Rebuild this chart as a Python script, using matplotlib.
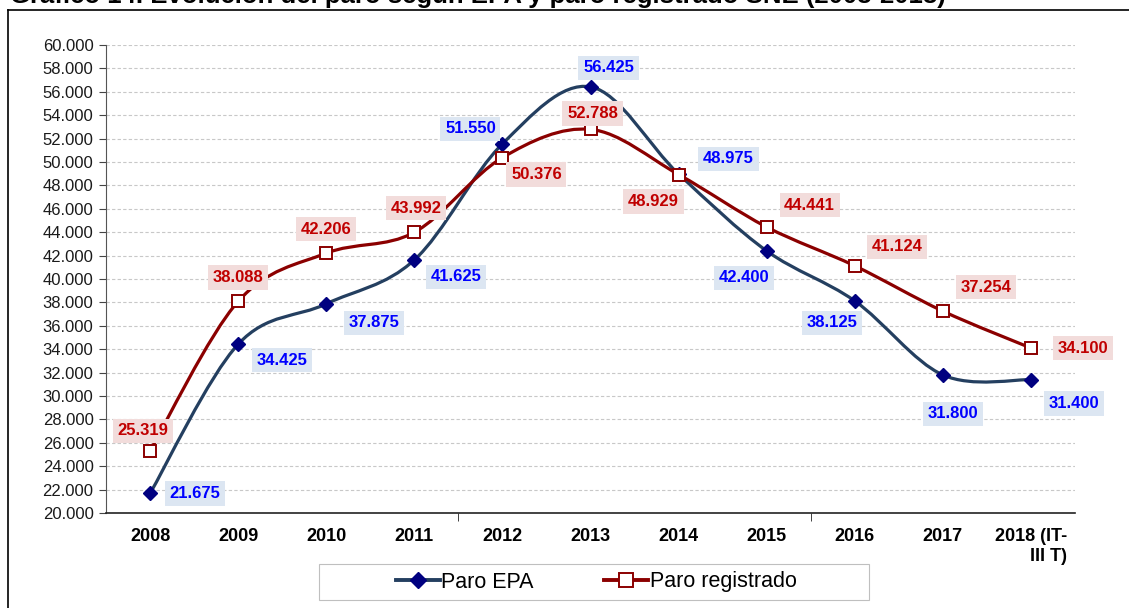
import matplotlib
matplotlib.use("Agg")
import matplotlib.pyplot as plt
from matplotlib.path import Path
from matplotlib.patches import PathPatch, Rectangle
from matplotlib.lines import Line2D
import numpy as np

plt.rcParams['font.family'] = ['Liberation Sans', 'DejaVu Sans']

years = ['2008', '2009', '2010', '2011', '2012', '2013', '2014', '2015', '2016', '2017', '2018 (IT-\nIII T)']
paro_epa = [21675, 34425, 37875, 41625, 51550, 56425, 48975, 42400, 38125, 31800, 31400]
paro_reg = [25319, 38088, 42206, 43992, 50376, 52788, 48929, 44441, 41124, 37254, 34100]

# label offsets in pixels (dx right, dy down)
epa_off = [(45, 0), (44, 16), (48, 19), (42, 17), (-32, -15), (18, -19),
           (50, -15), (-23, 27), (-23, 22), (10, 39), (43, 24)]
reg_off = [(-7, -20), (0, -24), (0, -24), (2, -24), (34, 17), (2, -16),
           (-25, 27), (43, -22), (42, -19), (43, -24), (52, 0)]


def smooth_path(xs, ys):
    # Excel-like smoothed line: cubic bezier segments through every point
    pts = np.column_stack([xs, ys]).astype(float)
    n = len(pts)
    verts = [pts[0]]
    codes = [Path.MOVETO]
    for i in range(n - 1):
        p0 = pts[i - 1] if i > 0 else pts[i]
        p1 = pts[i]
        p2 = pts[i + 1]
        p3 = pts[i + 2] if i + 2 < n else pts[i + 1]
        c1 = p1 + (p2 - p0) / 6.0
        c2 = p2 - (p3 - p1) / 6.0
        verts += [c1, c2, p2]
        codes += [Path.CURVE4] * 3
    return Path(verts, codes)


fig = plt.figure(figsize=(11.29, 6.08), dpi=100)
ax = fig.add_axes([106 / 1129, 1 - 513 / 608, (1075 - 106) / 1129, (513 - 45) / 608])

x = np.arange(len(years))

epa_line = '#243f60'
reg_line = '#8b0000'

ax.add_patch(PathPatch(smooth_path(x, paro_epa), fill=False, edgecolor=epa_line, lw=2.3, zorder=3))
ax.add_patch(PathPatch(smooth_path(x, paro_reg), fill=False, edgecolor=reg_line, lw=2.3, zorder=3))
ax.plot(x, paro_epa, ls='none', marker='D', ms=7, mfc='#000080', mec='#000080', zorder=4)
ax.plot(x, paro_reg, ls='none', marker='s', ms=9, mfc='white', mec=reg_line, mew=1.4, zorder=4)


def fmt(v):
    return f"{v:,}".replace(',', '.')


for i in range(len(x)):
    dx, dy = epa_off[i]
    ax.annotate(fmt(paro_epa[i]), (x[i], paro_epa[i]), xytext=(dx * 0.72, -dy * 0.72),
                textcoords='offset points', ha='center', va='center',
                fontsize=12, fontweight='bold', color='#0000ff', zorder=5,
                bbox=dict(boxstyle='square,pad=0.28', fc='#dce6f2', ec='none'))
    dx, dy = reg_off[i]
    ax.annotate(fmt(paro_reg[i]), (x[i], paro_reg[i]), xytext=(dx * 0.72, -dy * 0.72),
                textcoords='offset points', ha='center', va='center',
                fontsize=12, fontweight='bold', color='#c00000', zorder=5,
                bbox=dict(boxstyle='square,pad=0.28', fc='#f2dcdb', ec='none'))

ax.set_xlim(-0.5, len(years) - 0.5)
ax.set_ylim(20000, 60000)
ax.set_yticks(range(20000, 60001, 2000))
ax.set_yticklabels([fmt(v) for v in range(20000, 60001, 2000)], fontsize=12, color='#1a1a1a')
ax.set_xticks(x)
ax.set_xticklabels(years, fontsize=13, fontweight='bold', multialignment='right')
ax.set_xticks([3.5, 7.5], minor=True)
ax.tick_params(axis='x', which='major', length=0, pad=11)
ax.tick_params(axis='x', which='minor', length=6, direction='out', color='#222222')
ax.tick_params(axis='y', length=5, direction='out', color='#444444', pad=4)

ax.grid(axis='y', color='#c8c8c8', ls=(0, (3, 2)), lw=0.8)
ax.set_axisbelow(True)
for s in ['top', 'right']:
    ax.spines[s].set_visible(False)
ax.spines['left'].set_color('#555555')
ax.spines['bottom'].set_color('#222222')
ax.spines['bottom'].set_linewidth(1.2)

handles = [
    Line2D([], [], color=epa_line, lw=2.8, marker='D', ms=8, mfc='#000080', mec='#000080'),
    Line2D([], [], color=reg_line, lw=2.8, marker='s', ms=10, mfc='white', mec=reg_line, mew=1.4),
]
# legend box is wider than its content, so the frame is drawn separately
fig.add_artist(Rectangle((319 / 1129, 1 - 600 / 608), 550 / 1129, 36 / 608,
                         transform=fig.transFigure, fill=False, ec='#bfbfbf', lw=0.8))
fig.legend(handles, ['Paro EPA', 'Paro registrado'], loc='center',
           bbox_to_anchor=(596 / 1129, 1 - 582 / 608), ncol=2, fontsize=15.5,
           frameon=False, handlelength=2.05, handletextpad=0.05,
           columnspacing=3.3, borderpad=0.2, borderaxespad=0)

# outer frame of the figure box
fig.add_artist(Line2D([8 / 1129, 8 / 1129], [0, 1 - 10 / 608], color='black', lw=1.2))
fig.add_artist(Line2D([8 / 1129, 1], [1 - 10 / 608, 1 - 10 / 608], color='black', lw=1.2))

# chart title, partly cut off at the top edge as in the source
fig.text(10 / 1129, 1 - 3 / 608, 'Gráfico 14. Evolución del paro según EPA y paro registrado SNE (2008-2018)',
         fontsize=18.5, fontweight='bold', va='baseline', ha='left')

fig.savefig('out.png', dpi=100)
